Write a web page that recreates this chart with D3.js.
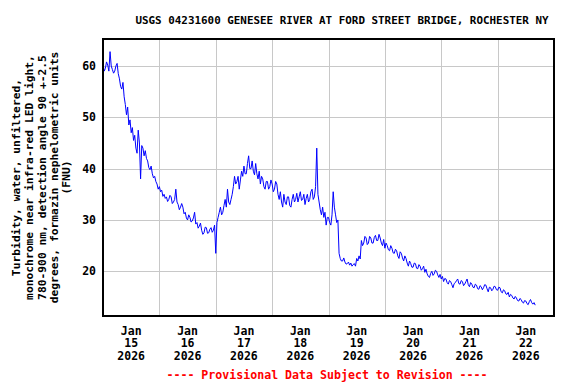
<!DOCTYPE html>
<html><head><meta charset="utf-8">
<script src="https://cdn.jsdelivr.net/npm/d3@7"></script>
<style>body{margin:0;background:#fff} text{font-family:"DejaVu Sans Mono",monospace;font-weight:bold}</style>
</head><body><svg id="c" width="576" height="384"></svg>
<script>
const title = "USGS 04231600 GENESEE RIVER AT FORD STREET BRIDGE, ROCHESTER NY";
const yLabelLines = ["Turbidity, water, unfiltered,","monochrome near infra-red LED light,","780-900 nm, detection angle 90 +-2.5","degrees, formazin nephelometric units","(FNU)"];
const footer = "---- Provisional Data Subject to Revision ----";
const dayLabels = ["15","16","17","18","19","20","21","22"];
const monthLabel = "Jan", yearLabel = "2026";
const yTicks = [20,30,40,50,60];
// half-hourly values starting 2026-01-15 00:00
const jan15 = [60.5,59.0,59.5,60.8,60.2,59.0,62.8,60.0,59.3,58.6,59.0,60.0,60.5,58.5,57.5,56.0,55.5,56.8,54.0,52.5,50.5,52.0,48.5,49.5,47.0,48.0,45.5,46.5,44.0,43.0,47.5,45.0,38.0,44.5,44.0,42.5,43.5,42.0,41.5,40.2,39.8,40.5,39.0,38.2,38.5,37.5,37.0,36.0];
const jan16 = [36.5,35.5,35.8,34.6,35.0,34.2,34.5,33.6,34.0,34.8,34.5,33.2,33.5,34.0,36.0,33.5,33.0,32.0,32.5,33.2,32.5,31.2,31.5,30.4,30.0,31.0,30.5,29.6,29.8,30.4,31.5,29.2,29.5,28.4,28.8,29.4,28.0,27.2,27.5,28.6,28.5,27.4,27.5,28.2,28.5,27.6,28.0,29.0];
const jan17 = [23.5,29.5,30.5,31.5,32.5,31.0,31.5,32.8,34.0,32.5,36.0,33.5,33.0,34.0,35.0,36.5,38.5,37.0,37.5,38.5,36.0,37.8,39.5,38.5,40.5,39.0,39.0,41.0,42.5,40.0,40.0,41.5,39.5,38.8,41.0,39.0,38.0,39.5,37.0,38.5,38.0,36.5,36.0,37.5,37.5,36.0,36.5,37.8];
const jan18 = [37.0,35.5,36.0,37.5,37.0,35.0,34.0,35.5,33.5,32.5,35.0,33.5,33.0,34.5,34.5,32.8,32.5,34.0,35.0,33.5,34.0,35.2,33.5,34.5,35.5,33.8,34.0,35.0,33.0,34.2,35.0,33.5,34.0,35.5,36.0,34.0,34.5,36.5,44.0,35.0,33.5,32.0,31.0,32.5,30.5,31.5,29.0,30.5];
const jan19 = [30.5,29.5,29.0,31.0,35.5,32.5,31.0,29.5,30.0,23.5,22.5,22.0,22.0,22.6,21.8,21.4,21.5,21.8,21.2,21.6,21.0,21.3,21.5,21.0,22.5,22.0,23.0,22.4,26.0,25.0,25.5,26.8,26.5,25.2,25.5,26.8,26.5,25.5,25.5,26.6,27.0,26.0,26.0,27.2,26.5,25.5,25.0,26.2];
const jan20 = [24.5,25.5,25.0,24.2,24.0,25.0,24.5,23.6,23.5,24.3,24.0,23.0,22.5,23.8,23.5,22.6,22.0,23.0,22.5,21.6,21.0,22.0,21.5,20.8,20.8,21.6,21.5,20.6,20.5,21.3,21.0,20.2,20.5,21.0,19.8,20.4,19.5,19.0,18.8,19.6,20.0,19.2,19.5,20.2,20.0,19.3,18.8,19.4];
const jan21 = [18.5,19.0,18.0,18.6,18.5,17.8,17.5,18.2,18.0,17.4,16.8,17.6,17.8,18.2,18.5,17.6,17.5,18.2,18.0,17.2,17.5,18.0,18.5,17.4,17.0,17.8,17.5,16.9,16.8,17.5,17.3,16.6,16.5,17.2,17.0,16.4,16.8,17.4,17.3,16.6,16.0,16.9,16.8,16.2,16.5,17.1,17.0,16.4];
const jan22 = [16.3,16.9,16.8,16.0,15.8,16.4,16.2,15.6,15.5,15.9,15.0,15.5,15.3,14.8,14.6,15.1,14.8,14.3,14.2,14.7,14.5,14.0,13.8,14.3,14.2,13.7,13.5,14.1,14.5,13.9,13.6,13.9,13.4];

const values = [].concat(jan15,jan16,jan17,jan18,jan19,jan20,jan21,jan22);
const t0 = Date.UTC(2026,0,15);
const HOUR = 3600e3, DAY = 24*HOUR, STEP = HOUR/2;
const data = values.map((v,i)=>({t:new Date(t0+i*STEP), v}));

const L=103, R=554, T=39, B=316;
const svg = d3.select("#c");
const x = d3.scaleUtc().domain([new Date(t0), new Date(t0+8*DAY)]).range([L,R]);
const y = d3.scaleLinear().domain([11.29,65.26]).range([B,T]);

// grid
const gridDays = d3.range(1,8).map(d=>new Date(t0+d*DAY));
svg.append("g").selectAll("line").data(gridDays).join("line")
  .attr("x1",d=>Math.round(x(d))+0.5).attr("x2",d=>Math.round(x(d))+0.5)
  .attr("y1",T).attr("y2",B).attr("stroke","#c8c8c8").attr("stroke-width",1);
svg.append("g").selectAll("line").data(yTicks).join("line")
  .attr("y1",d=>Math.round(y(d))+0.5).attr("y2",d=>Math.round(y(d))+0.5)
  .attr("x1",L).attr("x2",R).attr("stroke","#c8c8c8").attr("stroke-width",1);

// data line
svg.append("path").datum(data)
  .attr("d", d3.line().x(d=>x(d.t)).y(d=>y(d.v)))
  .attr("fill","none").attr("stroke","#0000ff").attr("stroke-width",1);

// frame
svg.append("rect").attr("x",L).attr("y",T).attr("width",R-L).attr("height",B-T)
  .attr("fill","none").attr("stroke","#000").attr("stroke-width",2);

// y tick labels
svg.append("g").selectAll("text").data(yTicks).join("text")
  .attr("x",96).attr("y",d=>y(d)).attr("dy","0.35em").attr("text-anchor","end")
  .attr("font-size",11.5).text(d=>d);

// x tick labels at noon
const xl = svg.append("g").selectAll("text").data(dayLabels).join("text")
  .attr("text-anchor","middle").attr("font-size",11.5)
  .attr("transform",(d,i)=>`translate(${x(new Date(t0+i*DAY+12*HOUR))},0)`);
xl.append("tspan").attr("x",0).attr("y",334.5).text(monthLabel);
xl.append("tspan").attr("x",0).attr("y",347).text(d=>d);
xl.append("tspan").attr("x",0).attr("y",359.5).text(yearLabel);

// title
svg.append("text").attr("x",342).attr("y",24).attr("text-anchor","middle")
  .attr("font-size",10.9).text(title);

// y label
const yl = svg.append("g").attr("transform","translate(0,177.5) rotate(-90)");
const lineX = [15.7,29,41.7,54,65.7];
yl.selectAll("text").data(yLabelLines).join("text")
  .attr("x",0).attr("y",(d,i)=>lineX[i]).attr("dy","0.35em")
  .attr("text-anchor","middle").attr("font-size",11.3).text(d=>d);

// footer
svg.append("text").attr("x",327).attr("y",379).attr("text-anchor","middle")
  .attr("font-size",11.6).attr("fill","#ff0000").text(footer);
</script></body></html>
